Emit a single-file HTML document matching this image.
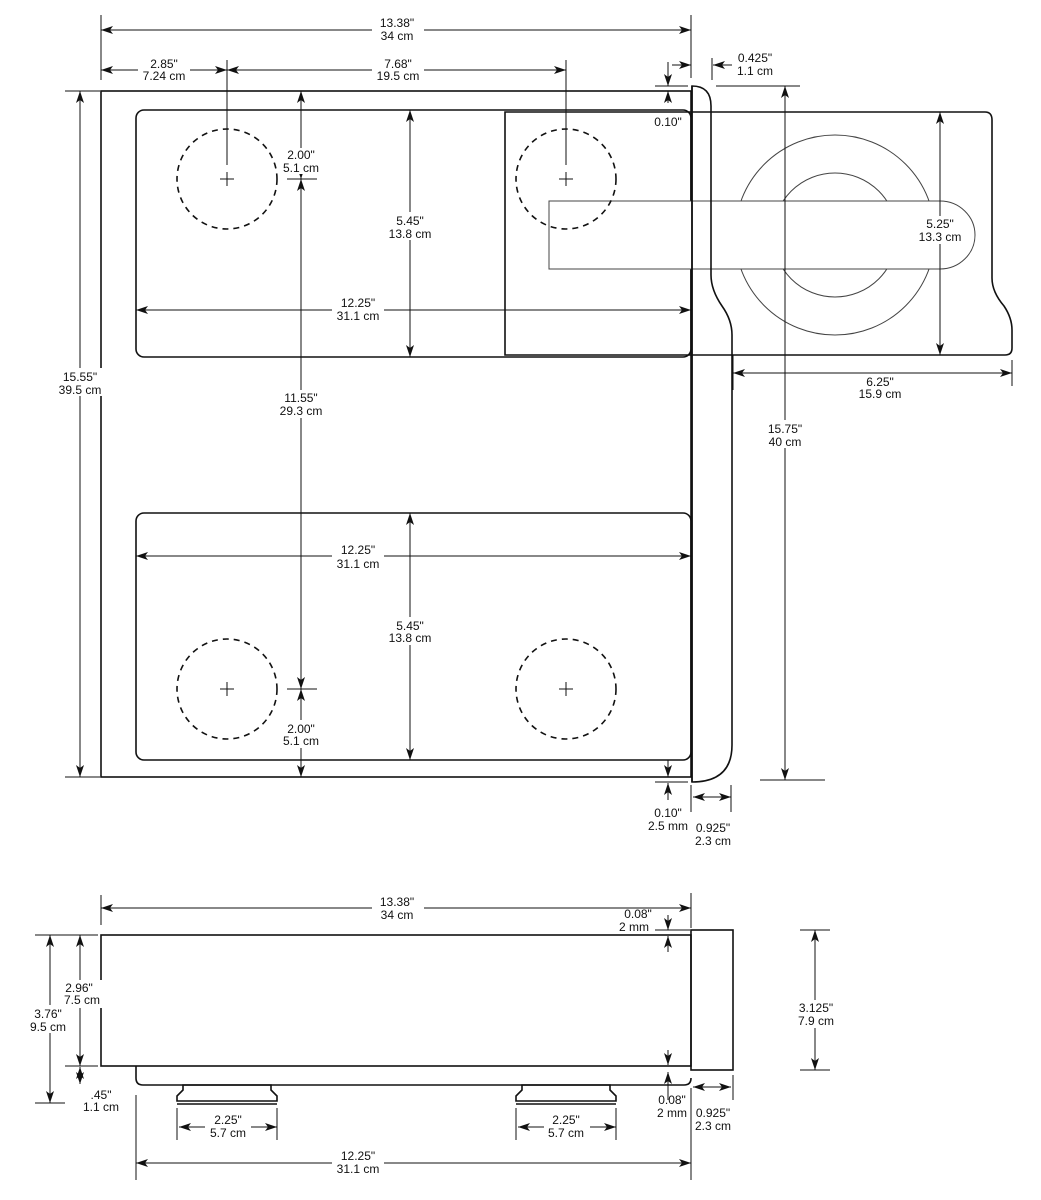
<!DOCTYPE html>
<html><head><style>
html,body{margin:0;padding:0;background:#fff;}
svg{display:block;}
text{font-family:"Liberation Sans",sans-serif;font-size:12px;fill:#111;text-anchor:middle;}
.t{stroke:#111;stroke-width:1.6;fill:none;}
.m{stroke:#111;stroke-width:1;fill:none;}
.g{stroke:#444;stroke-width:1;fill:none;}
.d{stroke:#111;stroke-width:1.6;fill:none;stroke-dasharray:6,5;}
.bg{fill:#fff;}
</style></head><body>
<svg width="1041" height="1200" viewBox="0 0 1041 1200" xmlns="http://www.w3.org/2000/svg">
<defs>
<marker id="a" viewBox="0 0 12 8" refX="12" refY="4" markerWidth="12" markerHeight="8" markerUnits="userSpaceOnUse" orient="auto-start-reverse">
<path d="M0,0 L12,4 L0,8 L3,4 Z" fill="#111"/></marker>
</defs>

<!-- ===== TOP VIEW ===== -->
<rect x="101" y="91" width="590" height="686" class="t"/>
<rect x="136" y="110" width="555" height="247" rx="8" class="t"/>
<rect x="136" y="513" width="555" height="247" rx="8" class="t"/>

<!-- slid module -->
<circle cx="835" cy="235" r="100" class="g"/>
<circle cx="835" cy="235" r="62" class="g"/>
<path d="M549,201 H940 A35,34 0 0 1 940,269 H549 Z" fill="#fff" stroke="#444" stroke-width="1"/>
<path d="M505,112 H985 Q992,112 992,120 V278 Q992,292 1004,306 Q1012,318 1012,330 V348 Q1012,355 1005,355 H505 Z" class="t"/>

<!-- front panel -->
<path d="M692,86 Q711,86 711,106 V275 Q711,290 722,306 Q732,320 732,335 V745 Q732,782 692,782 Z" class="t"/>
<line x1="692" y1="86" x2="692" y2="782" class="t"/>

<!-- dashed circles -->
<circle cx="227" cy="179" r="50" class="d"/>
<circle cx="566" cy="179" r="50" class="d"/>
<circle cx="227" cy="689" r="50" class="d"/>
<circle cx="566" cy="689" r="50" class="d"/>
<g class="m">
<path d="M220,179 h14 M227,172 v14"/><path d="M559,179 h14 M566,172 v14"/>
<path d="M220,689 h14 M227,682 v14"/><path d="M559,689 h14 M566,682 v14"/>
</g>

<!-- extension lines -->
<g class="m">
<line x1="101" y1="15" x2="101" y2="80"/>
<line x1="691" y1="15" x2="691" y2="78"/>
<line x1="227" y1="60" x2="227" y2="165"/>
<line x1="566" y1="60" x2="566" y2="165"/>
<line x1="712" y1="58" x2="712" y2="80"/>
<line x1="655" y1="86" x2="688" y2="86"/>
<line x1="65" y1="91" x2="100" y2="91"/>
<line x1="65" y1="777" x2="100" y2="777"/>
<line x1="287" y1="179" x2="317" y2="179"/>
<line x1="287" y1="689" x2="317" y2="689"/>
<line x1="716" y1="86" x2="800" y2="86"/>
<line x1="760" y1="780" x2="825" y2="780"/>
<line x1="655" y1="782" x2="688" y2="782"/>
<line x1="731" y1="785" x2="731" y2="812"/>
<line x1="691" y1="785" x2="691" y2="812"/>
<line x1="1012" y1="360" x2="1012" y2="386"/>
<line x1="733" y1="355" x2="733" y2="390"/>
</g>

<!-- dimension lines -->
<g class="m" marker-start="url(#a)" marker-end="url(#a)">
<line x1="101" y1="30" x2="691" y2="30"/>
<line x1="101" y1="70" x2="227" y2="70"/>
<line x1="227" y1="70" x2="566" y2="70"/>
<line x1="80" y1="91" x2="80" y2="777"/>
<line x1="301" y1="91" x2="301" y2="179"/>
<line x1="410" y1="110" x2="410" y2="357"/>
<line x1="136" y1="310" x2="691" y2="310"/>
<line x1="301" y1="179" x2="301" y2="689"/>
<line x1="136" y1="556" x2="691" y2="556"/>
<line x1="410" y1="513" x2="410" y2="760"/>
<line x1="301" y1="689" x2="301" y2="777"/>
<line x1="940" y1="112" x2="940" y2="355"/>
<line x1="733" y1="373" x2="1012" y2="373"/>
<line x1="785" y1="86" x2="785" y2="780"/>
<line x1="693" y1="797" x2="731" y2="797"/>
</g>
<g class="m" marker-end="url(#a)">
<line x1="668" y1="62" x2="668" y2="86"/>
<line x1="668" y1="103" x2="668" y2="91"/>
<line x1="672" y1="65" x2="691" y2="65"/>
<line x1="732" y1="65" x2="713" y2="65"/>
<line x1="668" y1="760" x2="668" y2="777"/>
<line x1="668" y1="800" x2="668" y2="783"/>
</g>

<!-- labels top view -->
<g>
<rect x="372" y="16" width="52" height="28" class="bg"/>
<text x="397" y="27">13.38"</text><text x="397" y="40">34 cm</text>
<rect x="138" y="58" width="52" height="26" class="bg"/>
<text x="164" y="68">2.85"</text><text x="164" y="80">7.24 cm</text>
<rect x="372" y="58" width="52" height="26" class="bg"/>
<text x="398" y="68">7.68"</text><text x="398" y="80">19.5 cm</text>
<text x="755" y="62">0.425"</text><text x="755" y="75">1.1 cm</text>
<text x="668" y="126">0.10"</text>
<rect x="55" y="368" width="50" height="28" class="bg"/>
<text x="80" y="381">15.55"</text><text x="80" y="394">39.5 cm</text>
<rect x="278" y="148" width="46" height="26" class="bg"/>
<text x="301" y="159">2.00"</text><text x="301" y="172">5.1 cm</text>
<rect x="386" y="212" width="48" height="28" class="bg"/>
<text x="410" y="225">5.45"</text><text x="410" y="238">13.8 cm</text>
<rect x="332" y="298" width="52" height="24" class="bg"/>
<text x="358" y="307">12.25"</text><text x="358" y="320">31.1 cm</text>
<rect x="276" y="390" width="50" height="28" class="bg"/>
<text x="301" y="402">11.55"</text><text x="301" y="415">29.3 cm</text>
<rect x="332" y="544" width="52" height="26" class="bg"/>
<text x="358" y="554">12.25"</text><text x="358" y="568">31.1 cm</text>
<rect x="386" y="617" width="48" height="28" class="bg"/>
<text x="410" y="630">5.45"</text><text x="410" y="642">13.8 cm</text>
<rect x="278" y="720" width="46" height="28" class="bg"/>
<text x="301" y="733">2.00"</text><text x="301" y="745">5.1 cm</text>
<rect x="914" y="216" width="54" height="28" class="bg"/>
<text x="940" y="228">5.25"</text><text x="940" y="241">13.3 cm</text>
<rect x="855" y="376" width="50" height="26" class="bg"/>
<text x="880" y="386">6.25"</text><text x="880" y="398">15.9 cm</text>
<rect x="765" y="420" width="40" height="28" class="bg"/>
<text x="785" y="433">15.75"</text><text x="785" y="446">40 cm</text>
<text x="668" y="817">0.10"</text><text x="668" y="830">2.5 mm</text>
<text x="713" y="832">0.925"</text><text x="713" y="845">2.3 cm</text>
</g>

<!-- ===== SIDE VIEW ===== -->
<rect x="101" y="935" width="590" height="131" class="t"/>
<rect x="691" y="930" width="42" height="140" class="t"/>
<path d="M136,1066 V1078 Q136,1085 143,1085 H684 Q691,1085 691,1078" class="t"/>
<path d="M183,1085 H271 V1090 L277,1096 V1101 H177 V1096 L183,1090 Z" class="t"/>
<path d="M522,1085 H610 V1090 L616,1096 V1101 H516 V1096 L522,1090 Z" class="t"/>
<line x1="177" y1="1104" x2="277" y2="1104" class="t"/>
<line x1="516" y1="1104" x2="616" y2="1104" class="t"/>

<g class="m">
<line x1="101" y1="895" x2="101" y2="925"/>
<line x1="691" y1="893" x2="691" y2="928"/>
<line x1="35" y1="935" x2="98" y2="935"/>
<line x1="35" y1="1103" x2="65" y2="1103"/>
<line x1="65" y1="1066" x2="98" y2="1066"/>
<line x1="655" y1="930" x2="690" y2="930"/>
<line x1="800" y1="930" x2="830" y2="930"/>
<line x1="800" y1="1070" x2="830" y2="1070"/>
<line x1="733" y1="1075" x2="733" y2="1100"/>
<line x1="691" y1="1088" x2="691" y2="1180"/>
<line x1="136" y1="1095" x2="136" y2="1180"/>
<line x1="177" y1="1108" x2="177" y2="1140"/>
<line x1="277" y1="1108" x2="277" y2="1140"/>
<line x1="516" y1="1108" x2="516" y2="1140"/>
<line x1="616" y1="1108" x2="616" y2="1140"/>
</g>
<g class="m" marker-start="url(#a)" marker-end="url(#a)">
<line x1="101" y1="908" x2="691" y2="908"/>
<line x1="50" y1="935" x2="50" y2="1103"/>
<line x1="80" y1="935" x2="80" y2="1066"/>
<line x1="80" y1="1067" x2="80" y2="1084"/>
<line x1="815" y1="930" x2="815" y2="1070"/>
<line x1="693" y1="1087" x2="731" y2="1087"/>
<line x1="179" y1="1127" x2="277" y2="1127"/>
<line x1="518" y1="1127" x2="616" y2="1127"/>
<line x1="136" y1="1163" x2="691" y2="1163"/>
</g>
<g class="m" marker-end="url(#a)">
<line x1="668" y1="915" x2="668" y2="930"/>
<line x1="668" y1="952" x2="668" y2="936"/>
<line x1="668" y1="1050" x2="668" y2="1065"/>
<line x1="668" y1="1100" x2="668" y2="1072"/>
</g>

<g>
<rect x="372" y="896" width="52" height="28" class="bg"/>
<text x="397" y="906">13.38"</text><text x="397" y="919">34 cm</text>
<text x="638" y="918">0.08"</text><text x="634" y="931">2 mm</text>
<rect x="28" y="1005" width="44" height="28" class="bg"/>
<text x="48" y="1018">3.76"</text><text x="48" y="1031">9.5 cm</text>
<rect x="58" y="980" width="44" height="28" class="bg"/>
<text x="79" y="992">2.96"</text><text x="82" y="1004">7.5 cm</text>
<text x="101" y="1099">.45"</text><text x="101" y="1111">1.1 cm</text>
<rect x="795" y="1000" width="44" height="28" class="bg"/>
<text x="816" y="1012">3.125"</text><text x="816" y="1025">7.9 cm</text>
<text x="672" y="1104">0.08"</text><text x="672" y="1117">2 mm</text>
<text x="713" y="1117">0.925"</text><text x="713" y="1130">2.3 cm</text>
<rect x="205" y="1114" width="46" height="26" class="bg"/>
<text x="228" y="1124">2.25"</text><text x="228" y="1137">5.7 cm</text>
<rect x="544" y="1114" width="46" height="26" class="bg"/>
<text x="566" y="1124">2.25"</text><text x="566" y="1137">5.7 cm</text>
<rect x="332" y="1151" width="52" height="26" class="bg"/>
<text x="358" y="1160">12.25"</text><text x="358" y="1173">31.1 cm</text>
</g>
</svg>
</body></html>
